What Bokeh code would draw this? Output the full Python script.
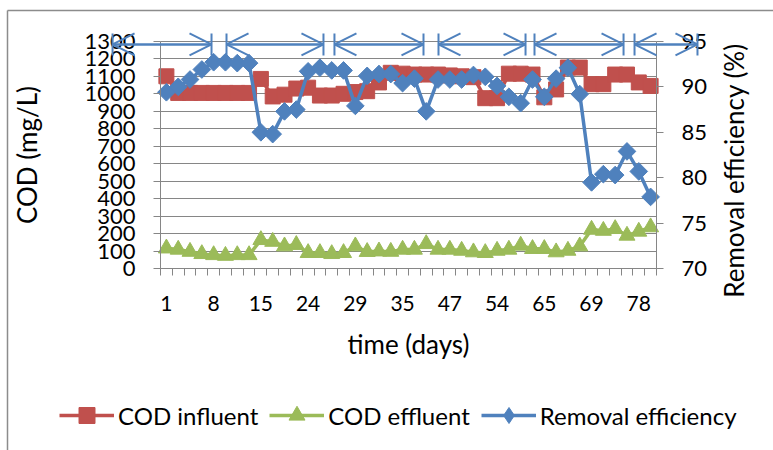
from math import pi
from bokeh.plotting import figure
from bokeh.models import (Range1d, LinearAxis, FixedTicker, Legend, LegendItem,
                          Arrow, OpenHead, TeeHead, Label)
from bokeh.embed import file_html
from bokeh.resources import INLINE

# ---------------- data ----------------
days = [1, 3, 5, 6, 8, 10, 12, 13, 15, 17, 19, 22, 24, 25, 26, 27, 29, 31, 32, 33,
        35, 38, 41, 44, 47, 48, 50, 52, 54, 56, 59, 62, 65, 66, 67, 68, 69, 72, 74, 76,
        78, 80]
cod_influent = [1100, 1005, 1005, 1005, 1005, 1005, 1005, 1005, 1085, 985, 995, 1030,
                1035, 990, 990, 1000, 1010, 1015, 1065, 1120, 1115, 1110, 1110, 1110,
                1105, 1100, 1095, 975, 975, 1115, 1115, 1110, 980, 1025, 1150, 1150,
                1055, 1055, 1110, 1110, 1065, 1045]
cod_effluent = [117, 110, 98, 85, 79, 75, 79, 79, 165, 155, 129, 137, 91, 91, 85, 91,
                129, 97, 100, 98, 110, 110, 142, 110, 110, 104, 95, 91, 104, 110, 133,
                114, 114, 95, 104, 129, 224, 218, 228, 190, 213, 238]
removal_eff = [89.4, 90.0, 90.8, 91.9, 92.7, 92.7, 92.6, 92.6, 85.0, 84.8, 87.3, 87.5,
               91.7, 92.1, 91.8, 91.8, 87.9, 91.2, 91.4, 91.4, 90.4, 90.9, 87.3, 90.8,
               90.8, 90.8, 91.3, 91.1, 90.1, 88.9, 88.2, 90.8, 88.9, 90.9, 92.1, 89.2,
               79.5, 80.4, 80.3, 82.9, 80.7, 77.9]
cod_lim = (0, 1300)
eff_lim = (70, 95)
cod_ticks = list(range(0, 1301, 100))
eff_ticks = [70, 75, 80, 85, 90, 95]
label_step = 4
# stage arrows (in category units along the time axis)
stages = [(-4.06, 4.32), (5.59, 13.8), (14.73, 22.27), (23.54, 30.91),
          (31.67, 39.21), (40.14, 45.47)]
stage_y = 1282

RED = "#C0504D"
GREEN = "#9BBB59"
BLUE = "#4F81BD"
GRID = "#868686"
FONT = "Lato"

W, H = 773, 450
# plot-area box in page pixels: left, right, top, bottom
PL, PR, PT, PB = 160.0, 656.0, 40.8, 268.3

n = len(days)
xs = [i + 0.5 for i in range(n)]

# ranges chosen so that the plot area (axes) lands on the box above while the
# frame covers the whole canvas (so arrows / legend outside the axes are not clipped)
kx = (PR - PL) / n
ky = (PB - PT) / (cod_lim[1] - cod_lim[0])
ke = (PB - PT) / (eff_lim[1] - eff_lim[0])
x_range = Range1d(-PL / kx, (W - PL) / kx)
y_range = Range1d(cod_lim[0] - (H - PB) / ky, cod_lim[0] + PB / ky)
e_range = Range1d(eff_lim[0] - (H - PB) / ke, eff_lim[0] + PB / ke)

p = figure(width=W, height=H, output_backend="svg", toolbar_location=None,
           x_range=x_range, y_range=y_range, min_border=0)
p.min_border_left = p.min_border_right = p.min_border_top = p.min_border_bottom = 0
p.outline_line_color = None
p.background_fill_color = "white"
p.border_fill_color = "white"
p.extra_y_ranges = {"eff": e_range}

# x axis
xa = p.xaxis[0]
label_pos = [i + 0.5 for i in range(0, n, label_step)]
xa.ticker = FixedTicker(ticks=label_pos, minor_ticks=list(range(0, n + 1)))
xa.major_label_overrides = {i + 0.5: str(days[i]) for i in range(0, n, label_step)}
xa.fixed_location = cod_lim[0]
xa.bounds = (0, n)
xa.major_tick_out = 0
xa.major_tick_in = 0
xa.minor_tick_out = 7
xa.minor_tick_in = 0
xa.minor_tick_line_color = GRID
xa.axis_line_color = GRID
xa.major_label_standoff = 20
xa.axis_label = "time (days)"
xa.axis_label_standoff = 14

# left axis
ya = p.yaxis[0]
ya.ticker = FixedTicker(ticks=cod_ticks)
ya.fixed_location = 0
ya.bounds = cod_lim
ya.major_tick_out = 7
ya.major_tick_in = 0
ya.minor_tick_out = 0
ya.minor_tick_in = 0
ya.major_tick_line_color = GRID
ya.axis_line_color = GRID
ya.major_label_standoff = 18
ya.axis_label = "COD (mg/L)"
ya.axis_label_standoff = 38

# right axis
ra = LinearAxis(y_range_name="eff", ticker=FixedTicker(ticks=eff_ticks))
ra.fixed_location = n
ra.bounds = eff_lim
ra.major_tick_out = 7
ra.major_tick_in = 0
ra.minor_tick_out = 0
ra.minor_tick_in = 0
ra.major_tick_line_color = GRID
ra.axis_line_color = GRID
ra.major_label_standoff = 18
p.add_layout(ra, "right")

for ax in (xa, ya, ra):
    ax.major_label_text_font = FONT
    ax.major_label_text_font_size = "22px"
    ax.major_label_text_color = "black"
    ax.axis_label_text_font = FONT
    ax.axis_label_text_font_size = "26px"
    ax.axis_label_text_font_style = "normal"
    ax.axis_label_text_color = "black"
xa.major_label_text_font_size = "21px"

# title of the secondary axis, reading upwards like the primary one
p.add_layout(Label(x=(733 - PL) / kx, y=(PB - 170) / ky,
                   text="Removal efficiency (%)", angle=pi / 2,
                   text_align="center", text_baseline="middle",
                   text_font=FONT, text_font_size="26px", text_color="black"))

p.xgrid.visible = False
p.ygrid.ticker = FixedTicker(ticks=cod_ticks)
p.ygrid.bounds = cod_lim
p.ygrid.cross_bounds = (0, n)
p.ygrid.grid_line_color = GRID
p.ygrid.grid_line_width = 1

# series
r1l = p.line(xs, cod_influent, line_color=RED, line_width=3.5)
r1s = p.scatter(xs, cod_influent, marker="square", size=15, fill_color=RED, line_color=RED)
r2l = p.line(xs, cod_effluent, line_color=GREEN, line_width=3.5)
r2s = p.scatter(xs, cod_effluent, marker="triangle", size=16, fill_color=GREEN, line_color=GREEN)
r3l = p.line(xs, removal_eff, y_range_name="eff", line_color=BLUE, line_width=3.5)
r3s = p.scatter(xs, removal_eff, y_range_name="eff", marker="square", angle=pi / 4,
                size=12.5, fill_color=BLUE, line_color=BLUE)
# legend-only diamond key (a single undefined point, nothing drawn in the plot)
nan = float("nan")
r3k = p.scatter(x=[nan], y=[nan], y_range_name="eff", marker="diamond", size=18,
                fill_color=BLUE, line_color=BLUE)

legend = Legend(items=[LegendItem(label="COD influent", renderers=[r1l, r1s]),
                       LegendItem(label="COD effluent", renderers=[r2l, r2s]),
                       LegendItem(label="Removal efficiency", renderers=[r3l, r3k])],
                orientation="horizontal", location=(59, 15),
                glyph_width=55, glyph_height=40, label_standoff=4, spacing=11,
                padding=0, margin=0, border_line_color=None, background_fill_alpha=0,
                label_text_font=FONT, label_text_font_size="24px",
                label_text_color="black")
p.add_layout(legend, "center")

# stage arrows
for a, b in stages:
    p.add_layout(Arrow(x_start=a, y_start=stage_y, x_end=b, y_end=stage_y,
                       start=OpenHead(size=22, line_color=BLUE, line_width=2),
                       end=OpenHead(size=22, line_color=BLUE, line_width=2),
                       line_color=BLUE, line_width=2))
    p.add_layout(Arrow(x_start=a, y_start=stage_y, x_end=b, y_end=stage_y,
                       start=TeeHead(size=22, line_color=BLUE, line_width=2),
                       end=TeeHead(size=22, line_color=BLUE, line_width=2),
                       line_color=BLUE, line_width=2))

# outer chart border (left and top edges of the chart box)
bx = (7 - PL) / kx
by = (PB - 10) / ky
p.add_layout(Arrow(x_start=bx, y_start=y_range.start, x_end=bx, y_end=by, end=None,
                   line_color="#8C8C8C", line_width=1.5))
p.add_layout(Arrow(x_start=bx, y_start=by, x_end=x_range.end, y_end=by, end=None,
                   line_color="#8C8C8C", line_width=1.5))

open("out.html", "w").write(file_html(p, INLINE))
